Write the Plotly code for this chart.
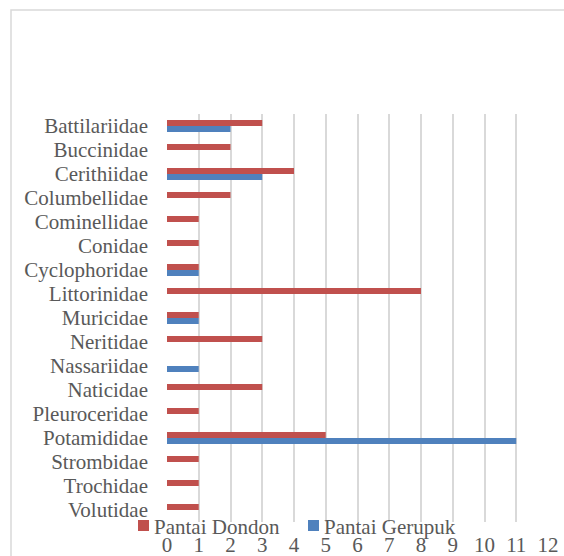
import plotly.graph_objects as go

categories = ["Battilariidae", "Buccinidae", "Cerithiidae", "Columbellidae", "Cominellidae",
              "Conidae", "Cyclophoridae", "Littorinidae", "Muricidae", "Neritidae",
              "Nassariidae", "Naticidae", "Pleuroceridae", "Potamididae", "Strombidae",
              "Trochidae", "Volutidae"]
dondon = [3, 2, 4, 2, 1, 1, 1, 8, 1, 3, 0, 3, 1, 5, 1, 1, 1]
gerupuk = [2, 0, 3, 0, 0, 0, 1, 0, 1, 0, 1, 0, 0, 11, 0, 0, 0]
series_names = ["Pantai Dondon", "Pantai Gerupuk"]
series_colors = ["#C0504D", "#4F81BD"]
x_ticks = list(range(0, 13))

FONT = "Liberation Serif, Times New Roman, serif"
TXT = "#595959"

fig = go.Figure()
for name, vals, col in zip(series_names, [dondon, gerupuk], series_colors):
    fig.add_trace(go.Bar(y=categories, x=vals, orientation="h", name=name,
                         marker=dict(color=col, line=dict(width=0))))

W, H = 564, 556
L, R, T, B = 167, 548, 114, 522
pw, ph = R - L, B - T

def px(x):
    return (x - L) / pw

def py(y):
    return (B - y) / ph

# manual legend (Excel-style: small square close to text)
legend_sq_x = [138, 308]
legend_txt_x = [152, 322]
leg_y = 525.5
shapes = [dict(type="rect", xref="paper", yref="paper",
               x0=px(11), x1=px(575), y0=py(570), y1=py(10),
               line=dict(color="#D9D9D9", width=1.5), fillcolor="rgba(0,0,0,0)",
               layer="below")]
annotations = []
for sx, tx, name, col in zip(legend_sq_x, legend_txt_x, series_names, series_colors):
    shapes.append(dict(type="rect", xref="paper", yref="paper",
                       x0=px(sx), x1=px(sx + 11), y0=py(leg_y + 5.5), y1=py(leg_y - 5.5),
                       line=dict(width=0), fillcolor=col, layer="above"))
    annotations.append(dict(xref="paper", yref="paper", x=px(tx), y=py(leg_y + 1),
                            xanchor="left", yanchor="middle", showarrow=False,
                            text=name, font=dict(family=FONT, size=21, color=TXT)))

fig.update_layout(
    width=W, height=H,
    margin=dict(l=L, r=W - R, t=T, b=H - B, pad=0, autoexpand=False),
    paper_bgcolor="white", plot_bgcolor="white",
    barmode="group", bargap=0.5, bargroupgap=0,
    font=dict(family=FONT, size=21, color=TXT),
    showlegend=False,
    xaxis=dict(range=[0, 12], tickmode="array", tickvals=x_ticks,
               ticktext=[str(v) for v in x_ticks],
               showgrid=True, gridcolor="#D9D9D9", gridwidth=1.5, automargin=False,
               zeroline=False, showline=False, ticks="", ticklabelstandoff=8,
               tickfont=dict(family=FONT, size=21, color=TXT)),
    yaxis=dict(autorange="reversed", tickmode="array", tickvals=categories,
               ticktext=categories, automargin=False,
               showgrid=False, zeroline=False, showline=False,
               ticks="", ticklabelstandoff=18,
               tickfont=dict(family=FONT, size=21, color=TXT)),
    shapes=shapes,
    annotations=annotations,
)

fig.write_html("out.html", config={"displayModeBar": False},
               post_script="document.body.style.margin='0';document.body.style.overflow='hidden';")
